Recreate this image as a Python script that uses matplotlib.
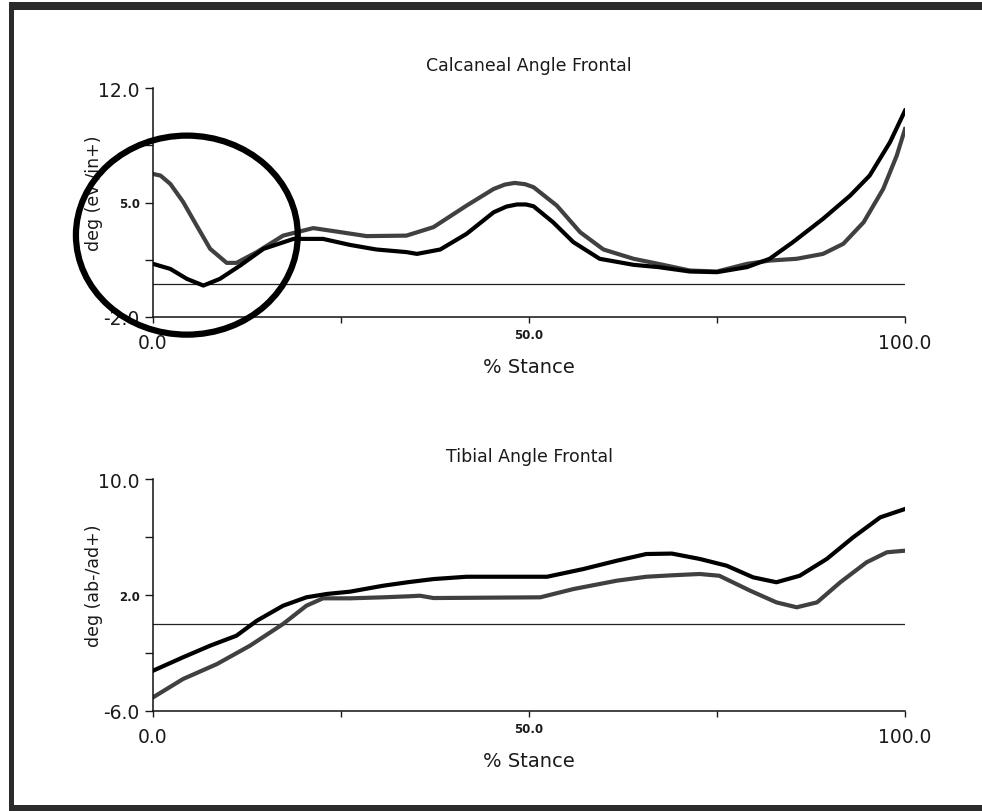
import numpy as np
import matplotlib
matplotlib.use('Agg')
import matplotlib.pyplot as plt
from matplotlib.patches import Ellipse, Rectangle
from matplotlib.transforms import ScaledTranslation

# calcaneal angle frontal (deg, ev-/in+)
calc_pct_black = [0, 2.3, 4.5, 6.7, 8.9, 11.6, 14.7, 18.7, 22.6, 26.2, 29.7, 33.7, 35.1, 38.2,
                  41.7, 45.3, 47, 48.4, 49.6, 50.6, 53.2, 55.9, 59.4, 63.9, 67.2, 71.4, 75, 79,
                  82, 85.1, 89.1, 92.7, 95.3, 98, 100]
calc_black = [1.24, 0.93, 0.32, -0.09, 0.32, 1.14, 2.16, 2.77, 2.77, 2.4, 2.12, 1.96, 1.85, 2.12,
              3.08, 4.4, 4.75, 4.88, 4.88, 4.77, 3.79, 2.57, 1.55, 1.18, 1.04, 0.77, 0.73, 1.04,
              1.55, 2.57, 4.0, 5.42, 6.65, 8.69, 10.63]
calc_pct_gray = [0, 1, 2.3, 4, 5.8, 7.6, 9.8, 11.1, 13.8, 17.3, 21.3, 24.4, 28.4, 33.7, 37.3, 41.7,
                 45.3, 46.8, 48.1, 49.5, 50.6, 53.7, 56.8, 59.9, 63.9, 67.2, 71.4, 75, 79, 82,
                 85.6, 89.1, 91.8, 94.5, 97.1, 98.9, 100]
calc_gray = [6.75, 6.65, 6.14, 5.04, 3.59, 2.16, 1.30, 1.3, 1.96, 2.97, 3.43, 3.22, 2.94, 2.97, 3.49,
             4.81, 5.83, 6.1, 6.2, 6.12, 5.94, 4.81, 3.18, 2.12, 1.55, 1.24, 0.83, 0.77, 1.24,
             1.44, 1.55, 1.85, 2.47, 3.79, 5.83, 7.87, 9.5]

# tibial angle frontal (deg, ab-/ad+)
tib_pct_black = [0, 4, 7.6, 11.1, 13.8, 17.3, 20.4, 23.1, 26.2, 30.6, 34, 37.3, 41.7, 52.4, 57.2,
                 61.7, 65.6, 69, 72.7, 76.3, 79.8, 82.9, 86, 89.6, 93.1, 96.7, 100]
tib_black = [-3.24, -2.31, -1.51, -0.82, 0.21, 1.25, 1.83, 2.06, 2.22, 2.63, 2.88, 3.09, 3.25, 3.25,
             3.78, 4.36, 4.82, 4.85, 4.48, 4.01, 3.21, 2.87, 3.32, 4.48, 5.97, 7.35, 7.93]
tib_pct_gray = [0, 4, 8.5, 12.9, 17.3, 20.4, 22.6, 26.2, 30.6, 34, 35.5, 37.3, 51.5, 55.9, 61.7,
                65.6, 69, 72.7, 75.3, 79.4, 82.9, 85.6, 88.3, 91.4, 94.9, 97.6, 100]
tib_gray = [-5.08, -3.81, -2.78, -1.51, -0.01, 1.25, 1.76, 1.76, 1.83, 1.9, 1.94, 1.78, 1.83, 2.40,
            2.98, 3.25, 3.35, 3.44, 3.32, 2.29, 1.48, 1.14, 1.48, 2.87, 4.25, 4.94, 5.05]

x_ticks = [0, 25, 50, 75, 100]
x_labels = ['0.0', '', '50.0', '', '100.0']
calc_ticks = [12, 8.5, 5, 1.5, -2]
calc_labels = ['12.0', '', '5.0', '', '-2.0']
tib_ticks = [10, 6, 2, -2, -6]
tib_labels = ['10.0', '', '2.0', '', '-6.0']
small_labels = ['5.0', '2.0', '50.0']

# hand drawn circle on the calcaneal plot: centre (pct, deg), width, height
circle = (4.5, 3.0, 29.5, 12.2)

W, H = 982, 812
fig = plt.figure(figsize=(W / 100, H / 100), dpi=100)
fig.patch.set_facecolor('white')

# frame (top, left, bottom bands)
frame_col = '#2b2b2b'
for (x0, y0, w, h) in [(9, 3, W - 9, 8), (9, 3, 5, 809), (9, 806, W - 9, 6)]:
    fig.add_artist(Rectangle((x0 / W, 1 - (y0 + h) / H), w / W, h / H,
                             transform=fig.transFigure, color=frame_col, lw=0))

txt_col = '#1a1a1a'


def make_axes(top, bottom, title, ylabel, yticks, ylabels, ylim):
    ax = fig.add_axes([153 / W, 1 - bottom / H, 752 / W, (bottom - top) / H])
    ax.set_xlim(0, 100)
    ax.set_ylim(*ylim)
    for s in ['top', 'right']:
        ax.spines[s].set_visible(False)
    for s in ['left', 'bottom']:
        ax.spines[s].set_linewidth(1.1)
        ax.spines[s].set_color('#111111')
    ax.set_xticks(x_ticks)
    ax.set_xticklabels(x_labels)
    ax.set_yticks(yticks)
    ax.set_yticklabels(ylabels)
    ax.tick_params(axis='y', direction='out', length=5.5, width=1.0, pad=4,
                   labelsize=13.5, colors=txt_col)
    ax.tick_params(axis='x', direction='out', length=4.5, width=1.0, pad=7,
                   labelsize=13.5, colors=txt_col)
    up = ScaledTranslation(0, 5 / 100, fig.dpi_scale_trans)
    for lbl in ax.get_xticklabels() + ax.get_yticklabels():
        if lbl.get_text() in small_labels:
            lbl.set_fontsize(8.5)
            lbl.set_fontweight('bold')
    for lbl in ax.get_xticklabels():
        if lbl.get_text() in small_labels:
            lbl.set_transform(lbl.get_transform() + up)
    ax.axhline(0, color='#222222', lw=0.9, zorder=1)
    ax.set_title(title, fontsize=12.5, color=txt_col, pad=13)
    ax.set_xlabel('% Stance', fontsize=14, color=txt_col, labelpad=4)
    ax.set_ylabel(ylabel, fontsize=12.5, color=txt_col)
    ax.yaxis.set_label_coords(-0.066, 0.545)
    return ax


ax1 = make_axes(89.3, 317.7, 'Calcaneal Angle Frontal', 'deg (ev-/in+)',
                calc_ticks, calc_labels, (-2, 12))
ax1.plot(calc_pct_gray, calc_gray, color='#404040', lw=3, solid_joinstyle='round', zorder=2)
ax1.plot(calc_pct_black, calc_black, color='black', lw=3, solid_joinstyle='round', zorder=3)
ax1.add_patch(Ellipse((circle[0], circle[1]), circle[2], circle[3], fill=False,
                      ec='black', lw=4.5, clip_on=False, zorder=5))

ax2 = make_axes(480, 711.7, 'Tibial Angle Frontal', 'deg (ab-/ad+)',
                tib_ticks, tib_labels, (-6, 10))
ax2.plot(tib_pct_gray, tib_gray, color='#404040', lw=3, solid_joinstyle='round', zorder=2)
ax2.plot(tib_pct_black, tib_black, color='black', lw=3, solid_joinstyle='round', zorder=3)

fig.savefig('out.png', dpi=100)
